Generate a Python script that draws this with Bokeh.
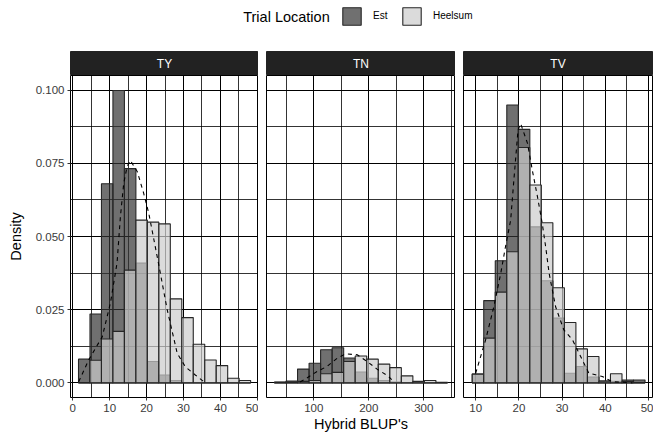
import numpy as np
from bokeh.plotting import figure
from bokeh.models import (Range1d, FixedTicker, ColumnDataSource, Label, Legend,
                          LegendItem, NumeralTickFormatter)
from bokeh.layouts import column, row
from bokeh.embed import file_html
from bokeh.resources import INLINE

# ---------------- data ----------------
panels = ["TY", "TN", "TV"]
groups = ["Est", "Heelsum"]
legend_title = "Trial Location"
x_title = "Hybrid BLUP's"
y_title = "Density"

# histogram bin ranges (first left edge, last right edge), 15 bins each
ty_bin_range = (1.55, 48.2)
tn_bin_range = (28.5, 343.0)
tv_bin_range = (9.2, 49.2)
n_bins = 15

ty_est = [0.0081, 0.0235, 0.0680, 0.0999, 0.0732, 0.0409, 0.0073, 0.0027, 0.0008, 0, 0, 0, 0, 0, 0]
ty_heel = [0, 0.0077, 0.0150, 0.0176, 0.0385, 0.0556, 0.0549, 0.0543, 0.0287, 0.0223, 0.0132, 0.0078, 0.0059, 0.0016, 0.0008]

tn_est = [0.0003, 0.0006, 0.0047, 0.0067, 0.0113, 0.0120, 0.0085, 0.0037, 0.0016, 0.0008, 0.0003, 0.0000, 0.0004, 0.0000, 0.0000]
tn_heel = [0.0002, 0.0002, 0.0005, 0.0008, 0.0031, 0.0036, 0.0073, 0.0092, 0.0081, 0.0064, 0.0052, 0.0024, 0.0005, 0.0008, 0.0002]

tv_est = [0.0030, 0.0281, 0.0417, 0.0949, 0.0866, 0.0533, 0.0349, 0.0221, 0.0033, 0.0056, 0.0020, 0.0006, 0.0005, 0.0010, 0.0010]
tv_heel = [0.0030, 0.0153, 0.0310, 0.0448, 0.0804, 0.0676, 0.0547, 0.0325, 0.0206, 0.0116, 0.0090, 0.0006, 0.0031, 0.0005, 0.0000]

# dashed density curves
ty_dens_x = [1.6, 4.3, 8.0, 10.2, 12.0, 12.9, 13.8, 14.7, 15.6, 17.5, 19.2, 20.6, 22.0, 23.2, 25.6, 28.3, 30.5, 33.2, 35.9]
ty_dens_y = [0.0004, 0.0078, 0.0158, 0.0273, 0.0410, 0.0567, 0.0681, 0.0738, 0.0760, 0.0721, 0.0648, 0.0579, 0.0488, 0.0410, 0.0249, 0.0101, 0.0055, 0.0027, 0.0000]

tn_dens_x = [75.0, 81.8, 106.0, 124.0, 142.5, 157.6, 179.0, 197.0, 215.0, 236.0, 245.0]
tn_dens_y = [0.0003, 0.0010, 0.0039, 0.0056, 0.0084, 0.0099, 0.0096, 0.0073, 0.0047, 0.0022, 0.0004]

tv_dens_x = [10.0, 12.3, 14.2, 15.8, 16.9, 18.1, 18.9, 19.8, 20.4, 22.0, 23.1, 24.3, 25.4, 26.2, 27.0, 28.5, 30.4, 32.4, 34.3, 36.2, 39.3, 41.6, 46.3]
tv_dens_y = [0.0033, 0.0147, 0.0260, 0.0374, 0.0465, 0.0556, 0.0704, 0.0863, 0.0886, 0.0818, 0.0727, 0.0636, 0.0545, 0.0465, 0.0374, 0.0260, 0.0181, 0.0147, 0.0090, 0.0033, 0.0022, 0.0004, 0.0000]

# axis ranges and ticks
ty_xlim = (-0.62, 50.33)
tn_xlim = (14.0, 357.6)
tv_xlim = (7.18, 50.93)
ylim = (-0.005, 0.105)

ty_major = [0, 10, 20, 30, 40, 50]
ty_minor = [5, 15, 25, 35, 45]
tn_major = [100, 200, 300]
tn_minor = [50, 150, 250, 350]
tv_major = [10, 20, 30, 40, 50]
tv_minor = [15, 25, 35, 45]
y_major = [0.0, 0.025, 0.05, 0.075, 0.1]
y_minor = [0.0125, 0.0375, 0.0625, 0.0875]

# ---------------- style ----------------
FONT = "Liberation Sans"
EST_FILL = "#333333"
HEEL_FILL = "#cccccc"
FILL_ALPHA = 0.7
BAR_LINE = "#262626"
STRIP_BG = "#222222"
TICK_TXT = "#3a3a3a"

LEG_H = 51
STRIP_H = 24
FRAME_H = 322
MAIN_H = 362
widths = [258, 197, 198]
left_borders = [70, 8, 8]
right_borders = [0, 0, 1]

panel_data = [
    (ty_bin_range, ty_est, ty_heel, ty_dens_x, ty_dens_y, ty_xlim, ty_major, ty_minor),
    (tn_bin_range, tn_est, tn_heel, tn_dens_x, tn_dens_y, tn_xlim, tn_major, tn_minor),
    (tv_bin_range, tv_est, tv_heel, tv_dens_x, tv_dens_y, tv_xlim, tv_major, tv_minor),
]

y_range = Range1d(*ylim)
mains = []
strips = []
for i, (name, pdata) in enumerate(zip(panels, panel_data)):
    brange, est, heel, dx, dy, xlim, xmaj, xmin = pdata
    edges = np.linspace(brange[0], brange[1], n_bins + 1)
    p = figure(width=widths[i], height=MAIN_H, x_range=Range1d(*xlim), y_range=y_range,
               output_backend="svg", toolbar_location=None,
               min_border_left=left_borders[i], min_border_right=right_borders[i],
               min_border_top=0, min_border_bottom=MAIN_H - FRAME_H)
    p.outline_line_color = "black"
    p.outline_line_width = 1
    p.background_fill_color = "white"
    p.border_fill_color = "white"

    xt = FixedTicker(ticks=xmaj, minor_ticks=xmin)
    yt = FixedTicker(ticks=y_major, minor_ticks=y_minor)
    p.xaxis.ticker = xt
    p.xgrid.ticker = xt
    p.yaxis.ticker = yt
    p.ygrid.ticker = yt
    for g in (p.xgrid, p.ygrid):
        g.grid_line_color = "black"
        g.grid_line_width = 1.0
        g.minor_grid_line_color = "black"
        g.minor_grid_line_width = 0.8

    for ax in (p.xaxis, p.yaxis):
        ax.axis_line_color = None
        ax.major_tick_line_color = "#333333"
        ax.major_tick_out = 3
        ax.major_tick_in = 0
        ax.minor_tick_line_color = None
        ax.major_label_text_font = FONT
        ax.major_label_text_font_size = "11.5px"
        ax.major_label_text_color = TICK_TXT
        ax.major_label_standoff = 2
        ax.axis_label_text_font = FONT
        ax.axis_label_text_font_size = "14.5px"
        ax.axis_label_text_font_style = "normal"
        ax.axis_label_text_color = "black"
    p.yaxis.formatter = NumeralTickFormatter(format="0.000")
    if i == 0:
        p.yaxis.axis_label = y_title
        p.yaxis.axis_label_standoff = 9
    else:
        p.yaxis.visible = False
    if i == 1:
        p.xaxis.axis_label = x_title
        p.xaxis.axis_label_standoff = 1

    src_e = ColumnDataSource(dict(left=edges[:-1], right=edges[1:], top=est))
    src_h = ColumnDataSource(dict(left=edges[:-1], right=edges[1:], top=heel))
    p.quad(left="left", right="right", top="top", bottom=0, source=src_e,
           fill_color=EST_FILL, fill_alpha=FILL_ALPHA, line_color=BAR_LINE, line_width=1.1)
    p.quad(left="left", right="right", top="top", bottom=0, source=src_h,
           fill_color=HEEL_FILL, fill_alpha=FILL_ALPHA, line_color=BAR_LINE, line_width=1.1)
    p.line(dx, dy, line_color="black", line_width=1.1, line_dash="4 4")
    mains.append(p)

    s = figure(width=widths[i], height=STRIP_H, x_range=Range1d(0, 1), y_range=Range1d(0, 1),
               output_backend="svg", toolbar_location=None,
               x_axis_location=None, y_axis_location=None,
               min_border_left=left_borders[i], min_border_right=right_borders[i],
               min_border_top=0, min_border_bottom=0)
    s.grid.visible = False
    s.background_fill_color = STRIP_BG
    s.border_fill_color = "white"
    s.outline_line_color = STRIP_BG
    s.add_layout(Label(x=0.5, y=0.5, text=name, text_align="center", text_baseline="middle",
                       text_color="white", text_font=FONT, text_font_size="12px"))
    strips.append(s)

# legend figure
lf = figure(width=sum(widths), height=LEG_H, x_range=Range1d(0, 1), y_range=Range1d(0, 1),
            output_backend="svg", toolbar_location=None,
            x_axis_location=None, y_axis_location=None,
            min_border_left=0, min_border_right=0, min_border_top=0, min_border_bottom=0)
lf.grid.visible = False
lf.outline_line_color = None
nan_src_e = ColumnDataSource(dict(left=[np.nan], right=[np.nan], top=[np.nan], bottom=[np.nan]))
nan_src_h = ColumnDataSource(dict(left=[np.nan], right=[np.nan], top=[np.nan], bottom=[np.nan]))
r_est = lf.quad(left="left", right="right", top="top", bottom="bottom", source=nan_src_e,
                fill_color=EST_FILL, fill_alpha=FILL_ALPHA, line_color=BAR_LINE, line_width=1.1)
r_heel = lf.quad(left="left", right="right", top="top", bottom="bottom", source=nan_src_h,
                 fill_color=HEEL_FILL, fill_alpha=FILL_ALPHA, line_color=BAR_LINE, line_width=1.1)
leg = Legend(items=[LegendItem(label=groups[0], renderers=[r_est]),
                    LegendItem(label=groups[1], renderers=[r_heel])],
             orientation="horizontal", location=(340, 24.3),
             glyph_width=23, glyph_height=22, label_height=22, label_width=20,
             label_standoff=10, spacing=7, padding=0, margin=0,
             border_line_color=None, background_fill_alpha=0,
             label_text_font=FONT, label_text_font_size="10px", label_text_color="black")
lf.add_layout(leg)
lf.add_layout(Label(x=242.7, y=35, x_units="screen", y_units="screen", text=legend_title,
                    text_baseline="middle", text_font=FONT, text_font_size="14.5px",
                    text_color="black"))

layout = column(lf, row(*strips, spacing=0), row(*mains, spacing=0), spacing=0)
open("out.html", "w").write(file_html(layout, INLINE))
